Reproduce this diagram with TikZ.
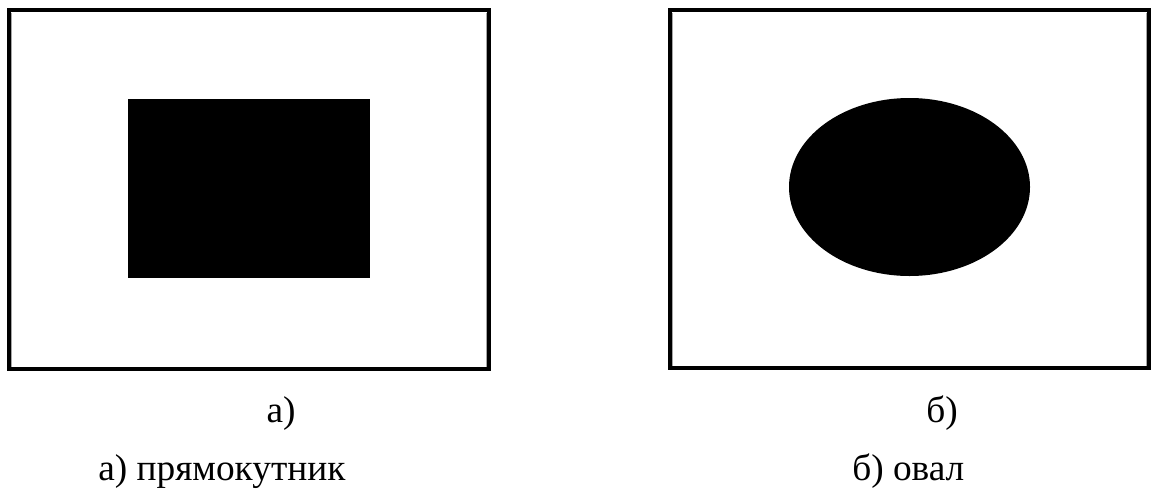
\documentclass[tikz,border=0pt]{standalone}
\usepackage{fontspec}
\setmainfont{Liberation Serif}
\usetikzlibrary{positioning}
\tikzset{
  frame/.style={line width=2.3pt},
  frameshade/.style={gray!70,line width=0.8pt},
  label/.style={inner sep=0pt,font=\fontsize{28}{33}\selectfont}
}

\begin{document}
\begin{tikzpicture}[x=0.75pt,y=-0.75pt]
  \useasboundingbox (0,0) rectangle (1151,493);
  % left picture: rectangle
  \draw[frame] (9,10) rectangle (489,369);
  \draw[frameshade] (11.5,12.5) -- (11.5,366.5) (486.5,12.5) -- (486.5,366.5);
  \fill (128,99) rectangle (370,278);
  % right picture: oval
  \draw[frame] (670,10) rectangle (1149,368);
  \draw[frameshade] (672.5,12.5) -- (672.5,365.5) (1146.5,12.5) -- (1146.5,365.5);
  \fill (909.5,187) ellipse [x radius=120.5, y radius=89];
  % captions
  \node[label,anchor=base] (capa) at (281,422) {а)};
  \node[label,anchor=base] (capb) at (942,422) {б)};
  \node[label,anchor=base west] (namea) at (98,480) {а) прямокутник};
  \node[label,anchor=base west] (nameb) at (852,480) {б) овал};
\end{tikzpicture}
\end{document}
